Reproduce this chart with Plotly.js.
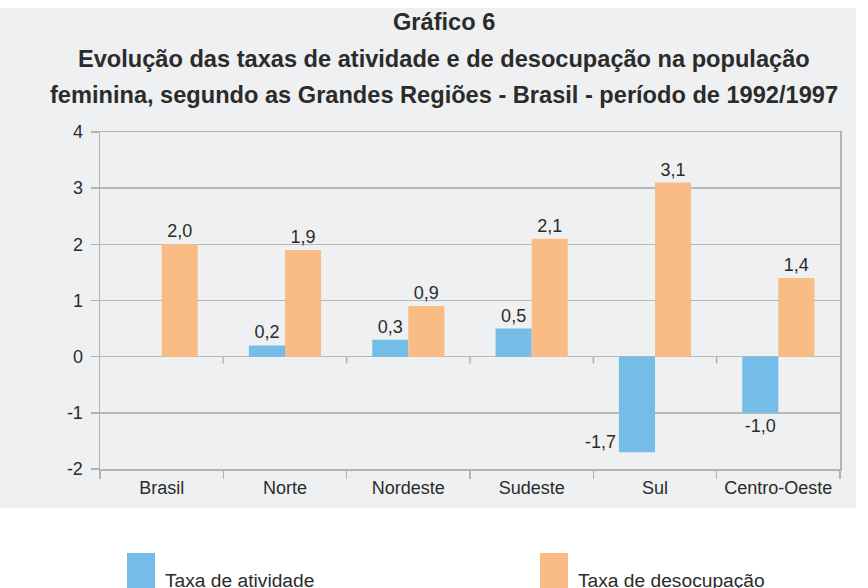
<!DOCTYPE html>
<html>
<head>
<meta charset="utf-8">
<script src="https://cdn.plot.ly/plotly-3.0.1.min.js"></script>
<style>html,body{margin:0;padding:0;background:#fff}#chart{width:868px;height:588px}</style>
</head>
<body>
<div id="chart"></div>
<script>
const categories = ['Brasil', 'Norte', 'Nordeste', 'Sudeste', 'Sul', 'Centro-Oeste'];
const seriesNames = ['Taxa de atividade', 'Taxa de desocupação'];
const atividade = [null, 0.2, 0.3, 0.5, -1.7, -1.0];
const desocupacao = [2.0, 1.9, 0.9, 2.1, 3.1, 1.4];
const yTicks = [-2, -1, 0, 1, 2, 3, 4];
const titleLines = ['Gráfico 6', 'Evolução das taxas de atividade e de desocupação na população', 'feminina, segundo as Grandes Regiões - Brasil - período de 1992/1997'];

const fmt = v => (v === null ? '' : v.toFixed(1).replace('.', ','));
const blue = '#74bde8', orange = '#f9bc85';
const txtColor = '#2b2b2b';
const baseFont = 'Liberation Sans, Arial, sans-serif';

// Sul activity label is placed to the left of the bar in the reference
const sulIdx = categories.indexOf('Sul');
const atividadeText = atividade.map((v, i) => i === sulIdx ? '' : fmt(v));

const traces = [
  {type: 'bar', name: seriesNames[0], x: categories, y: atividade, marker: {color: blue},
   text: atividadeText, textposition: 'outside', cliponaxis: false,
   textfont: {family: baseFont, size: 18, color: txtColor}, hoverinfo: 'x+y'},
  {type: 'bar', name: seriesNames[1], x: categories, y: desocupacao, marker: {color: orange},
   text: desocupacao.map(fmt), textposition: 'outside', cliponaxis: false,
   textfont: {family: baseFont, size: 18, color: txtColor}, hoverinfo: 'x+y'}
];

const px = x => (x - 100) / 740, py = y => (469 - y) / 337;

const annotations = [];
const titleY = [22, 59, 95];
titleLines.forEach((t, i) => annotations.push({
  text: '<b>' + t + '</b>', xref: 'paper', yref: 'paper', x: px(444), y: py(titleY[i]),
  xanchor: 'center', yanchor: 'middle', showarrow: false,
  font: {family: baseFont, size: 23.6, color: txtColor}
}));
annotations.push({
  text: fmt(atividade[sulIdx]), x: categories[sulIdx], y: atividade[sulIdx], xref: 'x', yref: 'y',
  xanchor: 'right', yanchor: 'middle', xshift: -37, yshift: 10, showarrow: false,
  font: {family: baseFont, size: 18, color: txtColor}
});
// legend
const legSquareX = [127, 540];
seriesNames.forEach((n, i) => annotations.push({
  text: n, xref: 'paper', yref: 'paper', x: px(legSquareX[i] + 36), y: py(580),
  xanchor: 'left', yanchor: 'middle', showarrow: false,
  font: {family: baseFont, size: 19.2, color: txtColor}
}));

const shapes = [
  {type: 'rect', xref: 'paper', yref: 'paper', x0: px(0), x1: px(856), y0: py(508), y1: py(8),
   fillcolor: '#eff0f1', line: {width: 0}, layer: 'below'},
  {type: 'rect', xref: 'paper', yref: 'paper', x0: px(legSquareX[0]), x1: px(legSquareX[0] + 28), y0: py(600), y1: py(553),
   fillcolor: blue, line: {width: 0}},
  {type: 'rect', xref: 'paper', yref: 'paper', x0: px(legSquareX[1]), x1: px(legSquareX[1] + 28), y0: py(600), y1: py(553),
   fillcolor: orange, line: {width: 0}}
];
// small ticks on the zero line at category boundaries
for (let i = 1; i < categories.length; i++) {
  shapes.push({type: 'line', xref: 'x', yref: 'y', x0: i - 0.5, x1: i - 0.5, y0: 0, y1: -0.12,
    line: {color: '#b3b3b3', width: 1.5}});
}

const layout = {
  width: 868, height: 588,
  margin: {l: 100, r: 28, t: 132, b: 119},
  paper_bgcolor: '#ffffff', plot_bgcolor: '#ffffff',
  showlegend: false,
  barmode: 'group', bargap: 0.415, bargroupgap: 0,
  xaxis: {
    type: 'category', tickson: 'boundaries', ticks: 'outside', ticklen: 8, tickwidth: 1.5, tickcolor: '#b3b3b3',
    showline: true, linecolor: '#b3b3b3', linewidth: 1.5, mirror: true, showgrid: false,
    tickfont: {family: baseFont, size: 18, color: txtColor}, ticklabelstandoff: 2
  },
  yaxis: {
    range: [-2, 4], tickvals: yTicks, ticktext: yTicks.map(String),
    ticks: 'outside', ticklen: 8, tickwidth: 1.5, tickcolor: '#b3b3b3',
    showline: true, linecolor: '#b3b3b3', linewidth: 1.5, mirror: true,
    showgrid: true, gridcolor: '#b8b8b8', gridwidth: 1.5, zeroline: true, zerolinecolor: '#b8b8b8', zerolinewidth: 1.5,
    tickfont: {family: baseFont, size: 18, color: txtColor}, ticklabelstandoff: 4
  },
  annotations: annotations,
  shapes: shapes
};

Plotly.newPlot('chart', traces, layout, {staticPlot: true});
</script>
</body>
</html>
